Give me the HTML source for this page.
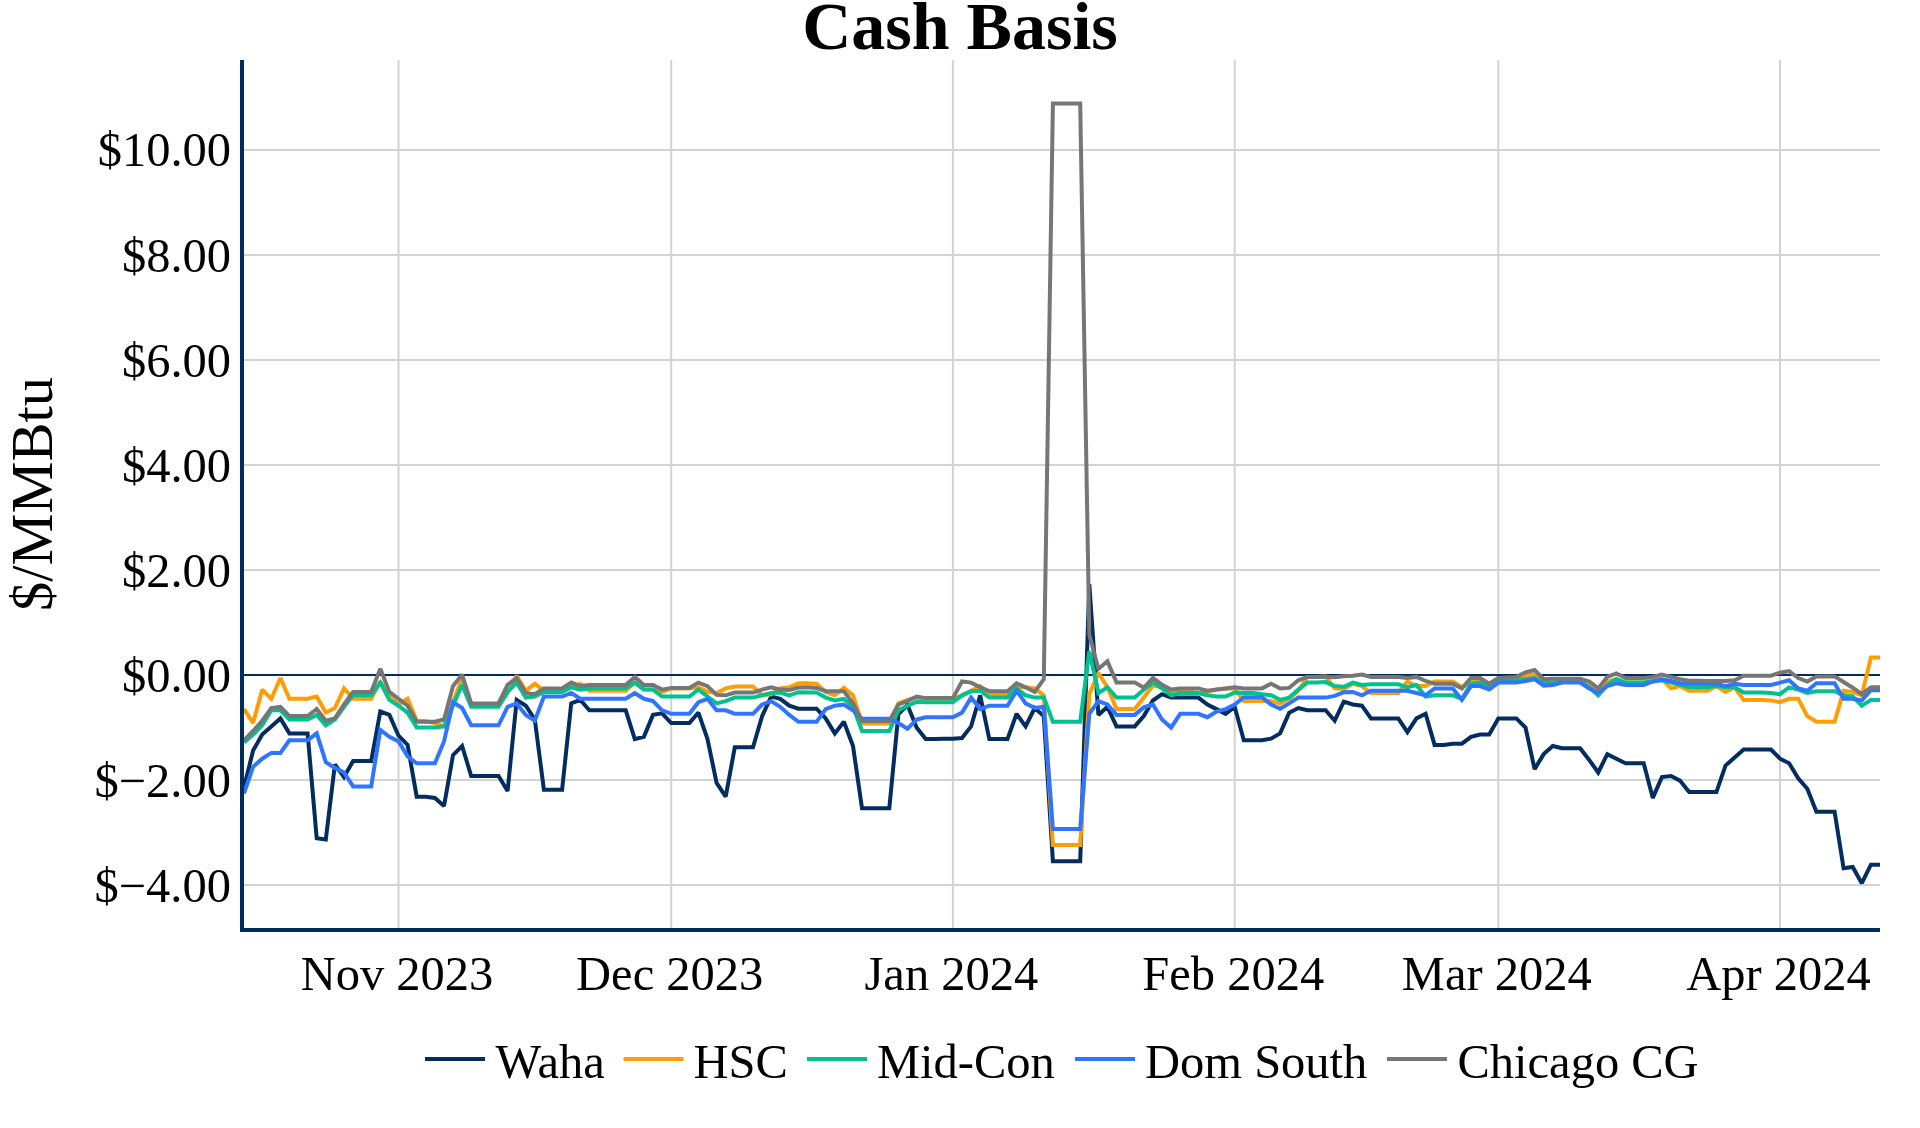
<!DOCTYPE html><html><head><meta charset="utf-8"><style>html,body{margin:0;padding:0;background:#fff;width:1920px;height:1128px;overflow:hidden;font-family:"Liberation Serif",serif}</style></head><body><svg width="1920" height="1128" viewBox="0 0 1920 1128" style="position:absolute;left:0;top:0">
<g stroke="#d3d3d3" stroke-width="2">
<line x1="242" x2="1880" y1="150.0" y2="150.0"/>
<line x1="242" x2="1880" y1="255.0" y2="255.0"/>
<line x1="242" x2="1880" y1="360.0" y2="360.0"/>
<line x1="242" x2="1880" y1="465.0" y2="465.0"/>
<line x1="242" x2="1880" y1="570.0" y2="570.0"/>
<line x1="242" x2="1880" y1="780.0" y2="780.0"/>
<line x1="242" x2="1880" y1="885.0" y2="885.0"/>
<line x1="398.5" x2="398.5" y1="60" y2="930"/>
<line x1="671.2" x2="671.2" y1="60" y2="930"/>
<line x1="952.9" x2="952.9" y1="60" y2="930"/>
<line x1="1234.7" x2="1234.7" y1="60" y2="930"/>
<line x1="1498.3" x2="1498.3" y1="60" y2="930"/>
<line x1="1780.0" x2="1780.0" y1="60" y2="930"/>
</g>
<line x1="242" x2="1880" y1="675" y2="675" stroke="#012d5e" stroke-width="2"/>
<path d="M244.0,787.5L253.1,750.6L262.2,734.5L271.3,726.4L280.4,718.4L289.4,733.4L298.5,733.4L307.6,733.4L316.7,838.2L325.8,839.4L334.9,764.5L344.0,777.1L353.1,761.0L362.2,761.0L371.2,761.0L380.3,711.5L389.4,714.9L398.5,735.7L407.6,744.9L416.7,796.7L425.8,796.7L434.9,797.9L444.0,806.0L453.0,755.2L462.1,746.0L471.2,776.0L480.3,776.0L489.4,776.0L498.5,776.0L507.6,791.0L516.7,699.9L525.8,705.7L534.8,719.5L543.9,789.8L553.0,789.8L562.1,789.8L571.2,703.4L580.3,699.9L589.4,710.3L598.5,710.3L607.6,710.3L616.6,710.3L625.7,710.3L634.8,739.1L643.9,736.8L653.0,714.9L662.1,713.3L671.2,723.0L680.3,723.0L689.4,723.0L698.4,712.6L707.5,739.1L716.6,782.9L725.7,796.7L734.8,747.2L743.9,747.2L753.0,747.2L762.1,716.1L771.2,696.5L780.2,698.8L789.3,705.7L798.4,708.7L807.5,708.7L816.6,708.7L825.7,718.4L834.8,733.4L843.9,721.8L853.0,746.0L862.0,808.3L871.1,808.3L880.2,808.3L889.3,808.3L898.4,714.0L907.5,705.0L916.6,727.6L925.7,739.1L934.8,739.1L943.8,738.7L952.9,738.7L962.0,738.0L971.1,726.4L980.2,695.3L989.3,739.1L998.4,739.1L1007.5,739.1L1016.6,713.8L1025.6,726.4L1034.7,708.0L1043.8,716.1L1052.9,861.3L1062.0,861.3L1071.1,861.3L1080.2,861.3L1089.3,584.2L1098.4,714.9L1107.4,706.8L1116.5,726.4L1125.6,726.4L1134.7,726.4L1143.8,716.1L1152.9,700.5L1162.0,694.2L1171.1,697.6L1180.2,697.6L1189.2,697.6L1198.3,697.6L1207.4,704.5L1216.5,709.1L1225.6,713.8L1234.7,706.8L1243.8,740.3L1252.9,740.3L1262.0,740.3L1271.0,738.7L1280.1,733.4L1289.2,712.6L1298.3,708.0L1307.4,710.3L1316.5,710.3L1325.6,710.3L1334.7,720.7L1343.8,701.7L1352.8,704.5L1361.9,705.7L1371.0,718.4L1380.1,718.4L1389.2,718.4L1398.3,718.4L1407.4,732.2L1416.5,718.4L1425.6,713.8L1434.6,744.9L1443.7,744.9L1452.8,743.7L1461.9,743.7L1471.0,736.8L1480.1,734.5L1489.2,734.5L1498.3,718.4L1507.4,718.4L1516.4,718.4L1525.5,727.6L1534.6,769.1L1543.7,754.1L1552.8,746.0L1561.9,748.3L1571.0,748.3L1580.1,748.3L1589.2,759.9L1598.2,772.5L1607.3,754.1L1616.4,758.7L1625.5,763.3L1634.6,763.3L1643.7,763.3L1652.8,797.9L1661.9,777.1L1671.0,776.0L1680.0,780.6L1689.1,792.1L1698.2,792.1L1707.3,792.1L1716.4,792.1L1725.5,765.6L1734.6,757.6L1743.7,749.5L1752.8,749.5L1761.8,749.5L1770.9,749.5L1780.0,758.7L1789.1,763.3L1798.2,778.3L1807.3,788.7L1816.4,811.7L1825.5,811.7L1834.6,811.7L1843.6,868.2L1852.7,867.0L1861.8,883.2L1870.9,864.7L1880.0,864.7" fill="none" stroke="#022d5e" stroke-width="4" stroke-miterlimit="2"/>
<path d="M244.0,709.1L253.1,723.0L262.2,689.6L271.3,698.8L280.4,678.0L289.4,698.8L298.5,698.8L307.6,698.8L316.7,696.5L325.8,712.6L334.9,708.0L344.0,688.4L353.1,698.8L362.2,698.8L371.2,698.8L380.3,681.5L389.4,696.5L398.5,704.5L407.6,698.8L416.7,720.7L425.8,721.2L434.9,723.0L444.0,726.4L453.0,702.2L462.1,678.0L471.2,705.7L480.3,705.7L489.4,705.7L498.5,705.7L507.6,693.0L516.7,675.7L525.8,690.7L534.8,683.8L543.9,690.7L553.0,690.7L562.1,690.7L571.2,687.3L580.3,683.8L589.4,690.7L598.5,690.7L607.6,690.7L616.6,690.7L625.7,690.7L634.8,682.6L643.9,689.6L653.0,689.6L662.1,691.9L671.2,688.4L680.3,688.4L689.4,688.4L698.4,687.3L707.5,691.9L716.6,693.0L725.7,688.4L734.8,686.6L743.9,686.6L753.0,686.6L762.1,695.3L771.2,694.2L780.2,688.4L789.3,687.3L798.4,683.2L807.5,683.3L816.6,683.8L825.7,691.9L834.8,695.3L843.9,687.9L853.0,695.3L862.0,723.4L871.1,723.4L880.2,723.4L889.3,723.4L898.4,703.4L907.5,699.9L916.6,697.6L925.7,698.8L934.8,698.8L943.8,698.8L952.9,698.8L962.0,695.3L971.1,690.7L980.2,686.1L989.3,694.2L998.4,694.2L1007.5,694.2L1016.6,687.3L1025.6,687.3L1034.7,688.4L1043.8,695.3L1052.9,845.1L1062.0,845.1L1071.1,845.1L1080.2,845.1L1089.3,694.2L1098.4,673.0L1107.4,687.3L1116.5,709.1L1125.6,709.1L1134.7,709.1L1143.8,697.6L1152.9,685.5L1162.0,687.3L1171.1,691.9L1180.2,691.9L1189.2,691.9L1198.3,693.0L1207.4,691.9L1216.5,689.6L1225.6,688.4L1234.7,688.4L1243.8,701.1L1252.9,701.1L1262.0,701.1L1271.0,701.1L1280.1,703.4L1289.2,698.8L1298.3,690.7L1307.4,676.9L1316.5,676.9L1325.6,676.6L1334.7,688.4L1343.8,689.0L1352.8,683.8L1361.9,686.1L1371.0,693.0L1380.1,693.0L1389.2,693.0L1398.3,693.0L1407.4,681.5L1416.5,686.1L1425.6,686.1L1434.6,681.5L1443.7,681.5L1452.8,681.5L1461.9,687.3L1471.0,682.6L1480.1,680.3L1489.2,688.4L1498.3,679.2L1507.4,679.2L1516.4,678.6L1525.5,675.7L1534.6,674.6L1543.7,682.6L1552.8,684.9L1561.9,681.5L1571.0,681.5L1580.1,681.5L1589.2,686.1L1598.2,689.6L1607.3,681.5L1616.4,679.2L1625.5,682.6L1634.6,682.6L1643.7,682.6L1652.8,679.2L1661.9,679.2L1671.0,688.4L1680.0,686.1L1689.1,690.7L1698.2,690.7L1707.3,690.7L1716.4,686.1L1725.5,691.9L1734.6,687.3L1743.7,699.9L1752.8,699.9L1761.8,699.9L1770.9,700.4L1780.0,702.2L1789.1,698.8L1798.2,698.8L1807.3,716.1L1816.4,721.8L1825.5,721.8L1834.6,721.8L1843.6,690.7L1852.7,691.9L1861.8,695.3L1870.9,657.5L1880.0,657.5" fill="none" stroke="#ff9e04" stroke-width="4" stroke-miterlimit="2"/>
<path d="M244.0,742.6L253.1,734.5L262.2,725.3L271.3,710.3L280.4,710.3L289.4,719.5L298.5,719.5L307.6,719.5L316.7,714.9L325.8,725.3L334.9,719.5L344.0,706.8L353.1,695.3L362.2,695.3L371.2,695.3L380.3,682.6L389.4,699.9L398.5,705.7L407.6,712.6L416.7,727.6L425.8,727.6L434.9,727.6L444.0,726.4L453.0,705.7L462.1,684.9L471.2,706.8L480.3,706.8L489.4,706.8L498.5,706.8L507.6,691.9L516.7,682.6L525.8,697.6L534.8,696.5L543.9,691.9L553.0,691.9L562.1,691.9L571.2,687.3L580.3,689.6L589.4,688.4L598.5,688.4L607.6,688.4L616.6,688.4L625.7,688.4L634.8,682.6L643.9,689.6L653.0,689.6L662.1,696.5L671.2,696.5L680.3,696.5L689.4,696.5L698.4,689.6L707.5,696.5L716.6,703.4L725.7,701.1L734.8,697.6L743.9,697.6L753.0,697.6L762.1,695.3L771.2,693.0L780.2,692.6L789.3,695.3L798.4,692.2L807.5,692.6L816.6,692.6L825.7,697.6L834.8,700.4L843.9,698.8L853.0,706.8L862.0,731.0L871.1,731.0L880.2,731.0L889.3,731.0L898.4,710.3L907.5,705.7L916.6,701.8L925.7,702.2L934.8,702.2L943.8,702.2L952.9,702.2L962.0,695.3L971.1,691.3L980.2,690.7L989.3,697.6L998.4,697.6L1007.5,697.6L1016.6,688.4L1025.6,695.3L1034.7,697.6L1043.8,697.6L1052.9,721.8L1062.0,721.8L1071.1,721.8L1080.2,721.8L1089.3,651.3L1098.4,693.0L1107.4,687.3L1116.5,697.6L1125.6,697.6L1134.7,697.6L1143.8,689.6L1152.9,682.6L1162.0,688.4L1171.1,695.3L1180.2,693.0L1189.2,693.0L1198.3,693.0L1207.4,695.3L1216.5,696.5L1225.6,696.5L1234.7,692.6L1243.8,693.0L1252.9,693.0L1262.0,694.2L1271.0,695.3L1280.1,699.9L1289.2,697.6L1298.3,689.6L1307.4,682.6L1316.5,682.6L1325.6,682.1L1334.7,686.1L1343.8,686.7L1352.8,682.6L1361.9,684.9L1371.0,684.3L1380.1,684.3L1389.2,684.3L1398.3,684.3L1407.4,687.3L1416.5,684.9L1425.6,696.5L1434.6,695.3L1443.7,695.3L1452.8,695.3L1461.9,698.8L1471.0,683.8L1480.1,682.6L1489.2,687.3L1498.3,681.5L1507.4,680.3L1516.4,679.8L1525.5,679.2L1534.6,678.0L1543.7,682.6L1552.8,682.6L1561.9,681.5L1571.0,681.5L1580.1,681.5L1589.2,687.3L1598.2,695.3L1607.3,684.9L1616.4,679.2L1625.5,682.6L1634.6,682.6L1643.7,682.6L1652.8,681.5L1661.9,680.3L1671.0,682.6L1680.0,684.9L1689.1,687.3L1698.2,687.3L1707.3,687.3L1716.4,686.1L1725.5,687.3L1734.6,687.3L1743.7,692.6L1752.8,692.6L1761.8,692.6L1770.9,693.0L1780.0,694.2L1789.1,687.3L1798.2,689.6L1807.3,693.0L1816.4,691.2L1825.5,691.2L1834.6,691.2L1843.6,695.3L1852.7,696.5L1861.8,705.7L1870.9,699.9L1880.0,699.9" fill="none" stroke="#00c28f" stroke-width="4" stroke-miterlimit="2"/>
<path d="M244.0,793.3L253.1,766.8L262.2,758.7L271.3,752.9L280.4,752.9L289.4,740.3L298.5,740.3L307.6,740.3L316.7,733.4L325.8,762.2L334.9,767.9L344.0,772.5L353.1,786.4L362.2,786.4L371.2,786.4L380.3,729.9L389.4,736.8L398.5,741.4L407.6,756.4L416.7,763.3L425.8,763.3L434.9,763.3L444.0,741.4L453.0,702.2L462.1,708.0L471.2,725.3L480.3,725.3L489.4,725.3L498.5,725.3L507.6,706.8L516.7,703.4L525.8,714.9L534.8,720.7L543.9,696.5L553.0,696.5L562.1,696.5L571.2,693.0L580.3,698.8L589.4,698.8L598.5,698.8L607.6,698.8L616.6,698.8L625.7,698.8L634.8,693.0L643.9,698.8L653.0,701.1L662.1,710.3L671.2,713.8L680.3,713.8L689.4,713.8L698.4,702.2L707.5,698.8L716.6,710.3L725.7,710.3L734.8,713.8L743.9,713.8L753.0,713.8L762.1,704.5L771.2,701.1L780.2,706.8L789.3,714.9L798.4,721.8L807.5,721.8L816.6,721.8L825.7,709.1L834.8,705.7L843.9,704.5L853.0,710.3L862.0,718.8L871.1,718.8L880.2,718.8L889.3,718.8L898.4,723.0L907.5,728.7L916.6,719.5L925.7,717.2L934.8,717.2L943.8,717.2L952.9,717.2L962.0,712.6L971.1,697.6L980.2,709.1L989.3,705.7L998.4,705.7L1007.5,705.7L1016.6,690.7L1025.6,703.4L1034.7,708.0L1043.8,706.8L1052.9,829.0L1062.0,829.0L1071.1,829.0L1080.2,829.0L1089.3,713.8L1098.4,701.1L1107.4,704.5L1116.5,714.9L1125.6,714.9L1134.7,714.9L1143.8,707.4L1152.9,704.5L1162.0,719.5L1171.1,727.6L1180.2,713.8L1189.2,713.8L1198.3,713.8L1207.4,717.2L1216.5,711.5L1225.6,709.1L1234.7,704.5L1243.8,697.2L1252.9,697.2L1262.0,697.2L1271.0,704.5L1280.1,708.7L1289.2,703.4L1298.3,697.6L1307.4,697.6L1316.5,697.6L1325.6,697.6L1334.7,695.9L1343.8,692.2L1352.8,691.9L1361.9,695.3L1371.0,690.7L1380.1,690.7L1389.2,690.7L1398.3,690.7L1407.4,690.7L1416.5,693.0L1425.6,695.3L1434.6,688.4L1443.7,688.4L1452.8,688.4L1461.9,699.9L1471.0,686.1L1480.1,686.1L1489.2,689.6L1498.3,682.6L1507.4,682.6L1516.4,682.6L1525.5,681.0L1534.6,679.2L1543.7,685.6L1552.8,684.9L1561.9,682.6L1571.0,682.6L1580.1,682.6L1589.2,688.4L1598.2,693.0L1607.3,686.1L1616.4,683.3L1625.5,684.9L1634.6,684.9L1643.7,684.9L1652.8,681.5L1661.9,679.2L1671.0,681.0L1680.0,683.3L1689.1,683.8L1698.2,683.8L1707.3,683.8L1716.4,683.8L1725.5,686.1L1734.6,683.8L1743.7,684.9L1752.8,684.9L1761.8,684.9L1770.9,684.9L1780.0,682.6L1789.1,680.3L1798.2,688.4L1807.3,690.7L1816.4,683.3L1825.5,683.3L1834.6,683.3L1843.6,698.8L1852.7,698.8L1861.8,700.4L1870.9,690.2L1880.0,690.2" fill="none" stroke="#3075ff" stroke-width="4" stroke-miterlimit="2"/>
<path d="M244.0,740.3L253.1,731.0L262.2,720.7L271.3,708.0L280.4,706.8L289.4,716.1L298.5,716.1L307.6,716.1L316.7,709.1L325.8,720.7L334.9,718.4L344.0,704.5L353.1,691.9L362.2,691.9L371.2,691.9L380.3,668.8L389.4,691.9L398.5,698.8L407.6,705.7L416.7,721.8L425.8,721.8L434.9,721.8L444.0,719.5L453.0,686.1L462.1,674.6L471.2,703.4L480.3,703.4L489.4,703.4L498.5,703.4L507.6,684.9L516.7,678.0L525.8,693.0L534.8,694.2L543.9,688.4L553.0,688.4L562.1,688.4L571.2,682.6L580.3,686.1L589.4,684.9L598.5,684.9L607.6,684.9L616.6,684.9L625.7,684.9L634.8,676.9L643.9,684.9L653.0,684.9L662.1,689.6L671.2,687.9L680.3,687.9L689.4,687.9L698.4,682.6L707.5,686.1L716.6,694.9L725.7,695.3L734.8,692.6L743.9,692.6L753.0,692.6L762.1,689.6L771.2,687.3L780.2,689.6L789.3,690.1L798.4,687.6L807.5,687.3L816.6,687.9L825.7,691.2L834.8,691.2L843.9,691.2L853.0,703.4L862.0,721.1L871.1,721.1L880.2,721.1L889.3,721.1L898.4,704.5L907.5,701.1L916.6,696.5L925.7,698.1L934.8,698.1L943.8,698.1L952.9,698.1L962.0,681.5L971.1,682.6L980.2,687.3L989.3,691.2L998.4,691.2L1007.5,691.2L1016.6,683.3L1025.6,687.3L1034.7,691.9L1043.8,679.2L1052.9,103.6L1062.0,103.6L1071.1,103.6L1080.2,103.6L1089.3,634.7L1098.4,669.0L1107.4,661.2L1116.5,682.4L1125.6,682.4L1134.7,682.4L1143.8,687.8L1152.9,678.0L1162.0,684.9L1171.1,689.6L1180.2,688.4L1189.2,688.4L1198.3,688.4L1207.4,690.7L1216.5,689.6L1225.6,688.4L1234.7,687.3L1243.8,688.4L1252.9,688.4L1262.0,688.4L1271.0,683.8L1280.1,688.4L1289.2,687.9L1298.3,680.3L1307.4,676.9L1316.5,676.9L1325.6,676.9L1334.7,677.2L1343.8,676.3L1352.8,675.7L1361.9,674.6L1371.0,676.9L1380.1,676.9L1389.2,676.9L1398.3,676.9L1407.4,678.0L1416.5,676.9L1425.6,681.0L1434.6,683.8L1443.7,683.8L1452.8,683.8L1461.9,688.4L1471.0,678.0L1480.1,678.0L1489.2,683.8L1498.3,678.0L1507.4,677.5L1516.4,676.9L1525.5,672.3L1534.6,670.0L1543.7,679.2L1552.8,678.7L1561.9,678.7L1571.0,678.7L1580.1,678.7L1589.2,681.5L1598.2,688.4L1607.3,676.9L1616.4,673.4L1625.5,678.0L1634.6,678.0L1643.7,678.0L1652.8,676.9L1661.9,674.6L1671.0,676.9L1680.0,679.2L1689.1,680.7L1698.2,680.7L1707.3,681.0L1716.4,681.0L1725.5,681.0L1734.6,680.3L1743.7,675.7L1752.8,675.7L1761.8,675.7L1770.9,675.7L1780.0,672.7L1789.1,671.1L1798.2,678.0L1807.3,681.5L1816.4,676.4L1825.5,676.4L1834.6,676.4L1843.6,682.0L1852.7,687.7L1861.8,694.2L1870.9,687.3L1880.0,687.3" fill="none" stroke="#767676" stroke-width="4" stroke-miterlimit="2"/>
<path d="M242,60 L242,930 L1880,930" fill="none" stroke="#012d5e" stroke-width="4"/>
<g font-family="Liberation Serif" font-size="48.5" fill="#000">
<text x="231" y="166.3" text-anchor="end">$10.00</text>
<text x="231" y="272.3" text-anchor="end">$8.00</text>
<text x="231" y="377.3" text-anchor="end">$6.00</text>
<text x="231" y="482.3" text-anchor="end">$4.00</text>
<text x="231" y="587.3" text-anchor="end">$2.00</text>
<text x="231" y="692.3" text-anchor="end">$0.00</text>
<text x="231" y="797.3" text-anchor="end">$−2.00</text>
<text x="231" y="902.3" text-anchor="end">$−4.00</text>
<text x="397.0" y="990" text-anchor="middle">Nov 2023</text>
<text x="669.7" y="990" text-anchor="middle">Dec 2023</text>
<text x="951.4" y="990" text-anchor="middle">Jan 2024</text>
<text x="1233.2" y="990" text-anchor="middle">Feb 2024</text>
<text x="1496.8" y="990" text-anchor="middle">Mar 2024</text>
<text x="1778.5" y="990" text-anchor="middle">Apr 2024</text>
</g>
<text x="960" y="48.5" text-anchor="middle" font-size="68" font-weight="bold" font-family="Liberation Serif" fill="#000">Cash Basis</text>
<text transform="translate(52.3,494) rotate(-90)" text-anchor="middle" font-size="58.5" font-family="Liberation Serif" fill="#000">$/MMBtu</text>
<line x1="425" x2="485" y1="1059" y2="1059" stroke="#022d5e" stroke-width="4" stroke-miterlimit="2"/>
<text x="495.5" y="1078" font-size="48.5" font-family="Liberation Serif" fill="#000">Waha</text>
<line x1="623.5" x2="683.5" y1="1059" y2="1059" stroke="#ff9e04" stroke-width="4" stroke-miterlimit="2"/>
<text x="693.4" y="1078" font-size="48.5" font-family="Liberation Serif" fill="#000">HSC</text>
<line x1="807" x2="867" y1="1059" y2="1059" stroke="#00c28f" stroke-width="4" stroke-miterlimit="2"/>
<text x="877" y="1078" font-size="48.5" font-family="Liberation Serif" fill="#000">Mid-Con</text>
<line x1="1075" x2="1135" y1="1059" y2="1059" stroke="#3075ff" stroke-width="4" stroke-miterlimit="2"/>
<text x="1145" y="1078" font-size="48.5" font-family="Liberation Serif" fill="#000">Dom South</text>
<line x1="1387" x2="1447" y1="1059" y2="1059" stroke="#767676" stroke-width="4" stroke-miterlimit="2"/>
<text x="1457.5" y="1078" font-size="48.5" font-family="Liberation Serif" fill="#000">Chicago CG</text>
</svg></body></html>
